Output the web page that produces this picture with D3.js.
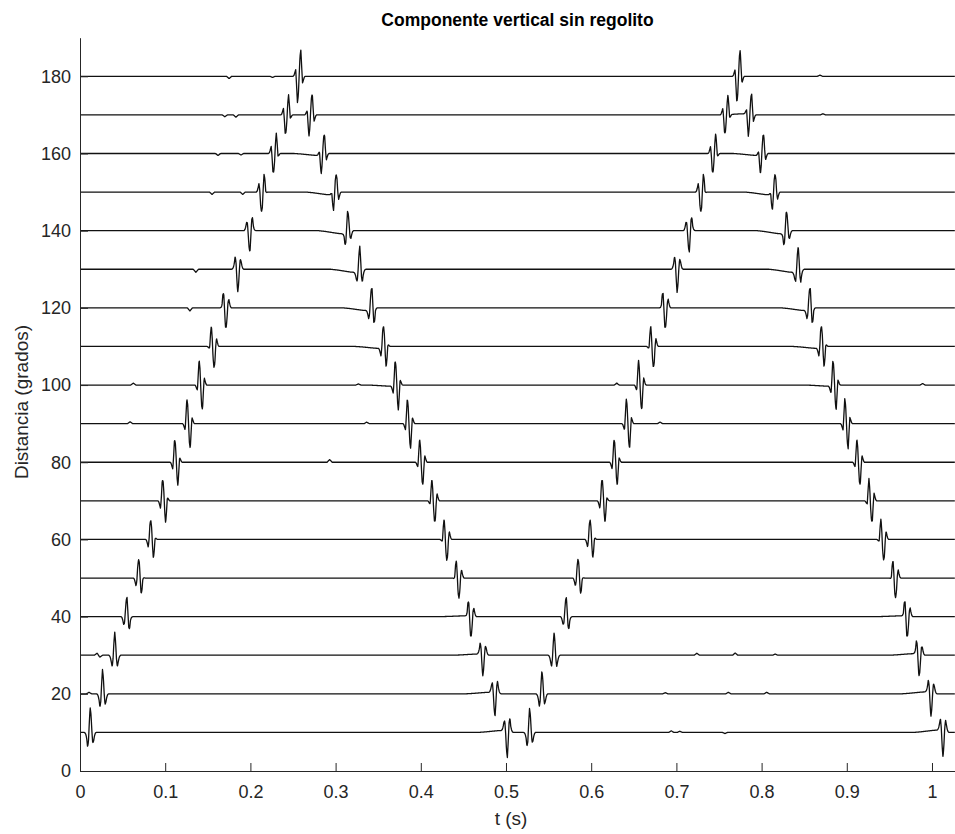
<!DOCTYPE html>
<html>
<head>
<meta charset="utf-8">
<script src="https://cdn.jsdelivr.net/npm/d3@7"></script>
<style>
  body { margin: 0; background: #fff; }
  text { font-family: "Liberation Sans", Arial, sans-serif; }
</style>
</head>
<body>
<script>
// distances of the traces (degrees)
const distances = [10, 20, 30, 40, 50, 60, 70, 80, 90, 100, 110, 120, 130, 140, 150, 160, 170, 180];
const xTicks = [0, 0.1, 0.2, 0.3, 0.4, 0.5, 0.6, 0.7, 0.8, 0.9, 1];
const yTicks = [0, 20, 40, 60, 80, 100, 120, 140, 160, 180];

// arrival times (s) of the four phases, one per trace (phase 2 and 4 stop at 170)
const t1 = [0.0119, 0.0264, 0.0408, 0.0552, 0.0697, 0.0841, 0.0985, 0.1129, 0.1274, 0.1418, 0.1562, 0.1707, 0.1851, 0.1995, 0.2140, 0.2284, 0.2428, 0.2572];
const t2 = [0.5016, 0.4871, 0.4727, 0.4583, 0.4438, 0.4294, 0.4150, 0.4006, 0.3861, 0.3717, 0.3573, 0.3428, 0.3284, 0.3140, 0.2996, 0.2851, 0.2707];
const t3 = [0.5276, 0.5421, 0.5565, 0.5709, 0.5854, 0.5998, 0.6142, 0.6286, 0.6431, 0.6575, 0.6719, 0.6864, 0.7008, 0.7152, 0.7296, 0.7441, 0.7585, 0.7729];
const t4 = [1.0129, 0.9987, 0.9846, 0.9704, 0.9563, 0.9421, 0.9280, 0.9138, 0.8996, 0.8855, 0.8713, 0.8572, 0.8430, 0.8289, 0.8147, 0.8006, 0.7864];

// pulse amplitudes: symmetric part and antisymmetric part (degrees)
const sym1 = [6.5, 6.3, 6, 5, 4, 3, 2, 1, 0, -1, -3, -5, -6, -5.5, -4, -2, -1.5, 0];
const anti1 = [1.5, 1, 0, -2, -3.5, -4.5, -5.5, -6, -6.5, -6.5, -5, -3, -1, 2, 4, 5, 5, 6.8];
const sym2 = [-6.5, -6, -5.5, -5, -4, -3, -2, -1, 0, 1, 3, 5, 6, 5, 3, 1.5, 1];
const anti2 = [1.5, 1, -1, -3, -4, -5, -5.5, -6, -6.5, -6.5, -5, -3, -1, 2, 4, 5, 5.5];
const sym3 = [6.2, 6, 6, 5, 4, 3, 2, 1, 0, -1, -3, -5, -6, -5.5, -4, -2, -1.5, 0];
const anti3 = [1.5, 1, 0, -2, -3.5, -4.5, -5.5, -6, -6.5, -6.5, -5, -3, -1, 2, 4, 5, 5, 6.8];
const sym4 = [-6.5, -6, -5.5, -5, -4, -3, -2, -1, 0, 1, 3, 5, 6, 5, 3, 1.5, 1];
const anti4 = [0, -1, -2, -3, -4, -5, -5.5, -6, -6.5, -6.5, -5, -3, -1, 2, 4, 5, 5.5];

// slow drift ahead of phases 2 and 4 (degrees)
const ramp2 = [0.5, 0.4, 0.3, 0.2, 0, 0, 0, 0, 0, -0.3, -0.5, -0.7, -0.8, -0.8, -0.7, -0.5, 0];
const ramp4 = [0.6, 0.5, 0.4, 0.2, 0, 0, 0, 0, 0, -0.3, -0.5, -0.7, -0.8, -0.8, -0.7, -0.5, 0.3];

// small wiggles on the traces: distance, time (s), size (degrees)
const wigDist = [180, 180, 170, 170, 160, 160, 150, 150, 130, 120, 100, 100, 100, 100, 90, 90, 90, 80, 30, 30, 30, 30, 30, 20, 20, 20, 20, 10, 10, 10, 180, 170];
const wigTime = [0.175, 0.226, 0.170, 0.183, 0.162, 0.189, 0.155, 0.191, 0.136, 0.129, 0.0626, 0.3267, 0.630, 0.989, 0.0587, 0.3365, 0.6808, 0.293, 0.020, 0.0235, 0.724, 0.769, 0.816, 0.0106, 0.687, 0.761, 0.806, 0.694, 0.704, 0.757, 0.8685, 0.872];
const wigSize = [-0.6, -0.3, -0.5, -0.6, -0.5, -0.4, -0.6, -0.6, -0.8, -0.8, 0.5, 0.3, 0.5, 0.4, 0.5, 0.4, 0.4, 0.7, 0.5, -0.5, 0.5, 0.6, 0.3, 0.4, 0.3, 0.4, 0.4, 0.4, 0.3, -0.3, 0.3, 0.3];

// wavelet shapes, sampled every 1 ms
const waveMs = [-7, -6, -5, -4, -3, -2, -1, 0, 1, 2, 3, 4, 5, 6, 7];
const symShape = [0, -0.03, -0.12, -0.3, -0.5, -0.15, 0.55, 1, 0.55, -0.15, -0.5, -0.3, -0.12, -0.03, 0];
const antiShape = [0, 0.04, 0.15, 0.25, -0.35, -1, -0.75, 0, 0.75, 1, 0.35, -0.25, -0.15, -0.04, 0];
const rampMs = [-34, -26, -18, -11, -6, -3, 0];
const rampShape = [0, 0.25, 0.6, 0.9, 1, 0.6, 0];
const wigMs = [-3, -1.5, 0, 1.5, 3];
const wigShape = [0, 0.5, 1, 0.5, 0];

const W = 955, H = 834;
const xMax = 1.027;
const step = 0.0004;

const svg = d3.select('body').append('svg')
  .attr('width', W)
  .attr('height', H);

svg.append('rect').attr('width', W).attr('height', H).attr('fill', '#fff');

const x = d3.scaleLinear().domain([0, xMax]).range([80, 955]);
const y = d3.scaleLinear().domain([0, 190]).range([771, 37.7]);

const symF = d3.scaleLinear().domain(waveMs).range(symShape).clamp(true);
const antiF = d3.scaleLinear().domain(waveMs).range(antiShape).clamp(true);
const rampF = d3.scaleLinear().domain(rampMs).range(rampShape).clamp(true);
const wigF = d3.scaleLinear().domain(wigMs).range(wigShape).clamp(true);

// build the traces
const times = d3.range(0, xMax + step / 2, step);
const traces = distances.map((d, i) => {
  const pulses = [];
  pulses.push({ t: t1[i], s: sym1[i], a: anti1[i], r: 0 });
  if (i < t2.length) pulses.push({ t: t2[i], s: sym2[i], a: anti2[i], r: ramp2[i] });
  pulses.push({ t: t3[i], s: sym3[i], a: anti3[i], r: 0 });
  if (i < t4.length) pulses.push({ t: t4[i], s: sym4[i], a: anti4[i], r: ramp4[i] });

  const wigs = wigDist
    .map((wd, j) => ({ d: wd, t: wigTime[j], v: wigSize[j] }))
    .filter(w => w.d === d);

  return times.map(t => {
    let v = d;
    pulses.forEach(p => {
      const ms = (t - p.t) * 1000;
      if (ms > -40 && ms < 10) {
        v += p.s * symF(ms) + p.a * antiF(ms) + p.r * rampF(ms);
      }
    });
    wigs.forEach(w => {
      v += w.v * wigF((t - w.t) * 1000);
    });
    return [t, v];
  });
});

const line = d3.line()
  .x(p => x(p[0]))
  .y(p => y(p[1]));

svg.append('g')
  .attr('id', 'g_traces')
  .selectAll('path')
  .data(traces)
  .enter()
  .append('path')
  .attr('d', line)
  .attr('fill', 'none')
  .attr('stroke', '#111')
  .attr('stroke-width', 1.3)
  .attr('stroke-linejoin', 'round');

// axes
const xAxis = svg.append('g')
  .attr('transform', 'translate(0,' + y(0) + ')')
  .call(d3.axisBottom(x)
    .tickValues(xTicks)
    .tickFormat(d => d)
    .tickSizeInner(-8)
    .tickSizeOuter(0)
    .tickPadding(14));

const yAxis = svg.append('g')
  .attr('transform', 'translate(' + x(0) + ',0)')
  .call(d3.axisLeft(y)
    .tickValues(yTicks)
    .tickFormat(d => d)
    .tickSizeInner(-8)
    .tickSizeOuter(0)
    .tickPadding(9));

[xAxis, yAxis].forEach(g => {
  g.select('.domain').attr('stroke', '#262626').attr('stroke-width', 1);
  g.selectAll('.tick line').attr('stroke', '#262626').attr('stroke-width', 1);
  g.selectAll('.tick text')
    .attr('fill', '#262626')
    .style('font-size', '18px')
    .style('font-family', '"Liberation Sans", Arial, sans-serif');
});

// title and labels
svg.append('text')
  .attr('x', 517.5)
  .attr('y', 26)
  .attr('text-anchor', 'middle')
  .attr('font-weight', 'bold')
  .attr('font-size', '17.5px')
  .attr('fill', '#000')
  .text('Componente vertical sin regolito');

svg.append('text')
  .attr('x', 511)
  .attr('y', 825)
  .attr('text-anchor', 'middle')
  .attr('font-size', '19px')
  .attr('fill', '#262626')
  .text('t (s)');

svg.append('text')
  .attr('transform', 'translate(28,402) rotate(-90)')
  .attr('text-anchor', 'middle')
  .attr('font-size', '19px')
  .attr('fill', '#262626')
  .text('Distancia (grados)');
</script>
</body>
</html>
